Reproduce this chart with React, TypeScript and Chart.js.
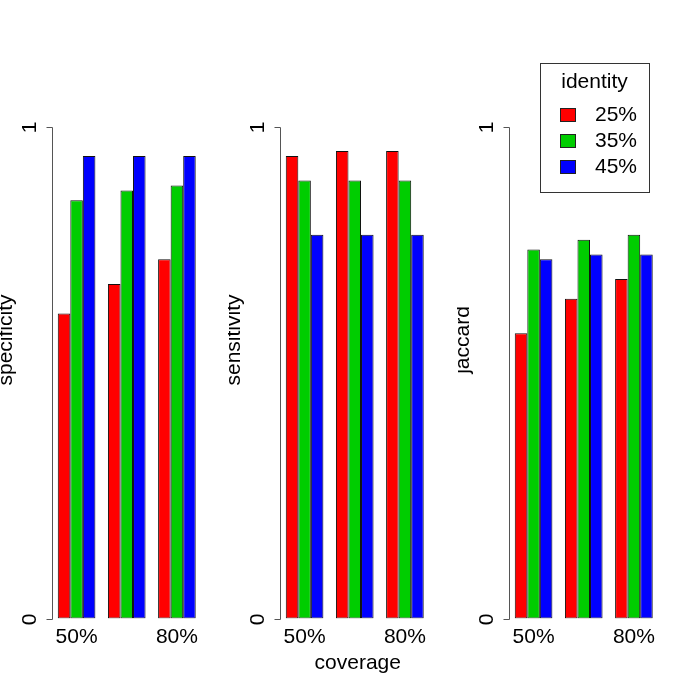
import React, { useEffect, useRef } from "react";
import { Chart, registerables } from "chart.js";

Chart.register(...registerables);

const coverageLabels = ["50%", "", "80%"];
const identityLabels = ["25%", "35%", "45%"];
const identityColors = ["#FF0000", "#00CD00", "#0000FF"];
const yTicks = [0, 1];

const specificity25 = [0.62, 0.68, 0.73];
const specificity35 = [0.85, 0.87, 0.88];
const specificity45 = [0.94, 0.94, 0.94];

const sensitivity25 = [0.94, 0.95, 0.95];
const sensitivity35 = [0.89, 0.89, 0.89];
const sensitivity45 = [0.78, 0.78, 0.78];

const jaccard25 = [0.58, 0.65, 0.69];
const jaccard35 = [0.75, 0.77, 0.78];
const jaccard45 = [0.73, 0.74, 0.74];

const FONT = "21px 'Liberation Sans', Arial, sans-serif";
const W = 685;
const H = 685;

type PanelProps = {
  left: number;
  width: number;
  ylab: string;
  series: number[][];
  xlab?: string;
  legendTitle?: string;
};

function Panel({ left, width, ylab, series, xlab, legendTitle }: PanelProps) {
  const ref = useRef<HTMLCanvasElement | null>(null);
  useEffect(() => {
    if (!ref.current) return;
    const rPlugin = {
      id: "rstyle",
      afterDraw(chart: any) {
        const ctx = chart.ctx as CanvasRenderingContext2D;
        const ys = chart.scales.y;
        const xs = chart.scales.x;
        const area = chart.chartArea;
        ctx.save();
        ctx.strokeStyle = "#555";
        ctx.fillStyle = "#000";
        ctx.lineWidth = 1;
        const ax = Math.floor(area.left + 0.75) + 0.5;
        const p0 = ys.getPixelForValue(yTicks[0]);
        const p1 = ys.getPixelForValue(yTicks[yTicks.length - 1]);
        ctx.beginPath();
        ctx.moveTo(ax, Math.round(p0) + 0.5);
        ctx.lineTo(ax, Math.round(p1) + 0.5);
        ctx.stroke();
        ctx.font = FONT;
        for (const v of yTicks) {
          const py = Math.round(ys.getPixelForValue(v)) + 0.5;
          ctx.beginPath();
          ctx.moveTo(ax - 6, py);
          ctx.lineTo(ax, py);
          ctx.stroke();
          ctx.save();
          ctx.translate(ax - 17, py);
          ctx.rotate(-Math.PI / 2);
          ctx.textAlign = "center";
          ctx.textBaseline = "alphabetic";
          ctx.fillText(String(v), 0, 0);
          ctx.restore();
        }
        // x tick labels
        ctx.textAlign = "center";
        ctx.textBaseline = "alphabetic";
        coverageLabels.forEach((lab, i) => {
          if (!lab) return;
          ctx.fillText(lab, xs.getPixelForValue(i), 643);
        });
        // y title
        ctx.save();
        ctx.translate(12, 340);
        ctx.rotate(-Math.PI / 2);
        ctx.textAlign = "center";
        ctx.fillText(ylab, 0, 0);
        ctx.restore();
        if (xlab) {
          ctx.fillText(xlab, (area.left + area.right) / 2 + 3, 669);
        }
        if (legendTitle) {
          const bx = 83.5;
          const by = 63.5;
          const bw = 109;
          const bh = 129;
          ctx.strokeStyle = "#333";
          ctx.strokeRect(bx, by, bw, bh);
          ctx.textAlign = "center";
          ctx.fillText(legendTitle, bx + 54, 88);
          chart.data.datasets.forEach((ds: any, i: number) => {
            const cy = 114.7 + i * 25.8;
            ctx.fillStyle = ds.backgroundColor;
            ctx.fillRect(103.5, Math.round(cy - 6.5) + 0.5, 15, 13);
            ctx.strokeStyle = "#222";
            ctx.strokeRect(103.5, Math.round(cy - 6.5) + 0.5, 15, 13);
            ctx.fillStyle = "#000";
            ctx.textAlign = "left";
            ctx.textBaseline = "middle";
            ctx.fillText(ds.label, 138, cy + 1);
          });
        }
        ctx.restore();
      },
    };
    const chart = new Chart(ref.current, {
      type: "bar",
      data: {
        labels: coverageLabels,
        datasets: series.map((vals, i) => ({
          label: identityLabels[i],
          data: vals,
          backgroundColor: identityColors[i],
          borderColor: "#111",
          borderWidth: 1,
          borderSkipped: false,
          categoryPercentage: 0.75,
          barPercentage: 1,
        })),
      },
      options: {
        responsive: false,
        animation: false,
        devicePixelRatio: 1,
        layout: { padding: { left: 51.5, right: width - 202, top: 126.5, bottom: H - 618.5 } },
        plugins: { legend: { display: false }, tooltip: { enabled: false }, title: { display: false } },
        scales: {
          x: { type: "category", display: false, offset: true, grid: { display: false } },
          y: { type: "linear", display: false, min: 0, max: 1 },
        },
      },
      plugins: [rPlugin],
    });
    return () => chart.destroy();
  }, []);
  return (
    <canvas
      ref={ref}
      width={width}
      height={H}
      style={{ position: "absolute", left, top: 0, width, height: H }}
    />
  );
}

export default function App() {
  const pw = 228;
  return (
    <div style={{ position: "absolute", left: 0, top: 0, width: W, height: H, background: "#fff", overflow: "hidden" }}>
      <Panel left={0} width={pw} ylab="specificity" series={[specificity25, specificity35, specificity45]} />
      <Panel left={228} width={pw} ylab="sensitivity" series={[sensitivity25, sensitivity35, sensitivity45]} xlab="coverage" />
      <Panel
        left={457}
        width={pw}
        ylab="jaccard"
        series={[jaccard25, jaccard35, jaccard45]}
        legendTitle="identity"
      />
    </div>
  );
}
